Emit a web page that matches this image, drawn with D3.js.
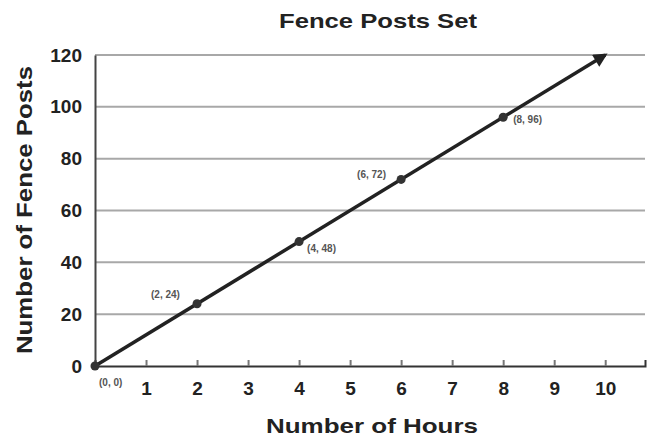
<!DOCTYPE html>
<html>
<head>
<meta charset="utf-8">
<script src="https://cdn.jsdelivr.net/npm/d3@7"></script>
<style>
body { margin: 0; background: #fff; }
text { font-family: "Liberation Sans", Arial, sans-serif; }
</style>
</head>
<body>
<svg id="chart" width="647" height="442"></svg>
<script>
// data
var hours = [0, 2, 4, 6, 8];
var posts = [0, 24, 48, 72, 96];
var pointLabels = ["(0, 0)", "(2, 24)", "(4, 48)", "(6, 72)", "(8, 96)"];
var lineEnd = [10, 120];
var xTicks = [1, 2, 3, 4, 5, 6, 7, 8, 9, 10];
var yTicks = [0, 20, 40, 60, 80, 100, 120];

var svg = d3.select("#chart");
var margin = {left: 95, right: 2, top: 55, bottom: 76};
var width = 647 - margin.left - margin.right;
var height = 442 - margin.top - margin.bottom;

var x = d3.scaleLinear().domain([0, 10.78]).range([0, width]);
var y = d3.scaleLinear().domain([0, 120]).range([height, 0]);

var g = svg.append("g").attr("transform", "translate(" + margin.left + "," + margin.top + ")");

// grid
g.selectAll("line.grid").data(yTicks.filter(function (d) { return d > 0; }))
	.enter().append("line")
	.attr("class", "grid")
	.attr("x1", 0).attr("x2", width)
	.attr("y1", function (d) { return y(d); })
	.attr("y2", function (d) { return y(d); })
	.attr("stroke", "#a8a8a8")
	.attr("stroke-width", 2);

// x axis
var xAxis = g.append("g").attr("transform", "translate(0," + height + ")")
	.call(d3.axisBottom(x).tickValues(xTicks).tickSize(-6).tickPadding(16).tickFormat(d3.format("d")));
xAxis.select(".domain").attr("stroke", "#333").attr("stroke-width", 2);
xAxis.selectAll(".tick line").attr("stroke", "#777").attr("stroke-width", 2);
xAxis.selectAll("text").attr("font-size", 19).attr("font-weight", "bold").attr("fill", "#222");

// y axis
var yAxis = g.append("g")
	.call(d3.axisLeft(y).tickValues(yTicks).tickSize(0).tickPadding(13));
yAxis.select(".domain").attr("stroke", "#444").attr("stroke-width", 2);
yAxis.selectAll("text").attr("font-size", 19).attr("font-weight", "bold").attr("fill", "#222");

// arrow
svg.append("defs").append("marker")
	.attr("id", "arrow")
	.attr("viewBox", "0 0 10 10")
	.attr("refX", 8).attr("refY", 5)
	.attr("markerWidth", 5).attr("markerHeight", 4)
	.attr("orient", "auto")
	.append("path").attr("d", "M0,0L10,5L0,10z").attr("fill", "#222");

var line = d3.line().x(function (d) { return x(d[0]); }).y(function (d) { return y(d[1]); });
g.append("path")
	.datum([[0, 0], lineEnd])
	.attr("d", line)
	.attr("stroke", "#222")
	.attr("stroke-width", 3.5)
	.attr("fill", "none")
	.attr("marker-end", "url(#arrow)");

var pts = hours.map(function (h, i) { return {x: h, y: posts[i], label: pointLabels[i]}; });
g.selectAll("circle.pt").data(pts).enter().append("circle")
	.attr("class", "pt")
	.attr("cx", function (d) { return x(d.x); })
	.attr("cy", function (d) { return y(d.y); })
	.attr("r", 4.5)
	.attr("fill", "#333");

// point labels, offsets per point
var offs = [[4, 20], [-46, -6], [8, 10], [-44, -1], [10, 6]];
g.selectAll("text.pl").data(pts).enter().append("text")
	.attr("class", "pl")
	.attr("x", function (d, i) { return x(d.x) + offs[i][0]; })
	.attr("y", function (d, i) { return y(d.y) + offs[i][1]; })
	.attr("font-size", 10)
	.attr("font-family", "'Liberation Serif', serif")
	.attr("font-weight", "bold")
	.attr("fill", "#555")
	.text(function (d) { return d.label; });

// titles
svg.append("text")
	.attr("x", 378).attr("y", 28)
	.attr("text-anchor", "middle")
	.attr("font-size", 21).attr("font-weight", "bold").attr("fill", "#222")
	.attr("textLength", 198).attr("lengthAdjust", "spacingAndGlyphs")
	.text("Fence Posts Set");

svg.append("text")
	.attr("x", 372).attr("y", 433)
	.attr("text-anchor", "middle")
	.attr("font-size", 21).attr("font-weight", "bold").attr("fill", "#222")
	.attr("textLength", 212).attr("lengthAdjust", "spacingAndGlyphs")
	.text("Number of Hours");

svg.append("text")
	.attr("transform", "translate(32,210) rotate(-90)")
	.attr("text-anchor", "middle")
	.attr("font-size", 22).attr("font-weight", "bold").attr("fill", "#222")
	.attr("textLength", 288).attr("lengthAdjust", "spacingAndGlyphs")
	.text("Number of Fence Posts");
</script>
</body>
</html>
